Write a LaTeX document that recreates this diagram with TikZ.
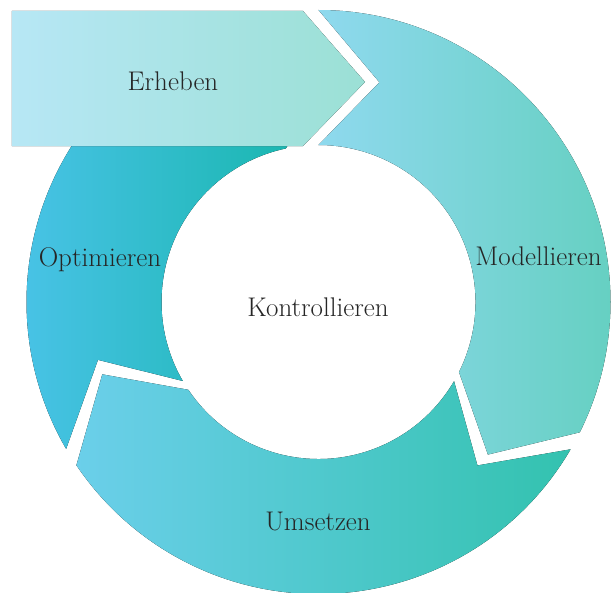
\documentclass[tikz,border=0pt]{standalone}
\usepackage{fontspec}
\definecolor{erhebenL}{HTML}{B7E7F5}
\definecolor{erhebenR}{HTML}{9BE0D5}
\definecolor{modellL}{HTML}{8FD9EE}
\definecolor{modellR}{HTML}{66D0C2}
\definecolor{umsetzL}{HTML}{6BCFEA}
\definecolor{umsetzR}{HTML}{33C2AF}
\definecolor{optimL}{HTML}{4AC3E8}
\definecolor{optimR}{HTML}{13B5A8}
\definecolor{labelgray}{HTML}{262626}
\tikzset{LabelStyle/.style = {text=labelgray, anchor=base,
    font=\fontsize{27}{32}\selectfont}}
% ring segment: start angle, end angle, left colour, right colour
\newcommand{\RingArrow}[4]{%
  \fill[left color=#3, right color=#4]
    (#1:292) arc[start angle=#1, end angle=#2, radius=292]
    -- ({#2-15.5}:228) -- (#2:157)
    arc[start angle=#2, end angle=#1, radius=157]
    -- ({#1-15.5}:228) -- cycle;}

\begin{document}
\begin{tikzpicture}[x=1pt, y=1pt]
  \useasboundingbox (-318.5,-290) rectangle (294.5,302);
  \RingArrow{90}{-26.5}{modellL}{modellR}
  \RingArrow{-30.3}{-146}{umsetzL}{umsetzR}
  \RingArrow{-149.8}{-258}{optimL}{optimR}
  \fill[left color=erhebenL, right color=erhebenR]
    (-306.5,291) -- (-15.5,291) -- (46.5,220) -- (-15.5,156)
    -- (-306.5,156) -- cycle;
  \node[LabelStyle] (erheben) at (-145.5,211.3) {Erheben};
  \node[LabelStyle] (modellieren) at (220,36.3) {Modellieren};
  \node[LabelStyle] (umsetzen) at (-0.5,-228.7) {Umsetzen};
  \node[LabelStyle] (optimieren) at (-218.5,36) {Optimieren};
  \node[LabelStyle] (kontrollieren) at (-0.5,-14) {Kontrollieren};
\end{tikzpicture}
\end{document}
